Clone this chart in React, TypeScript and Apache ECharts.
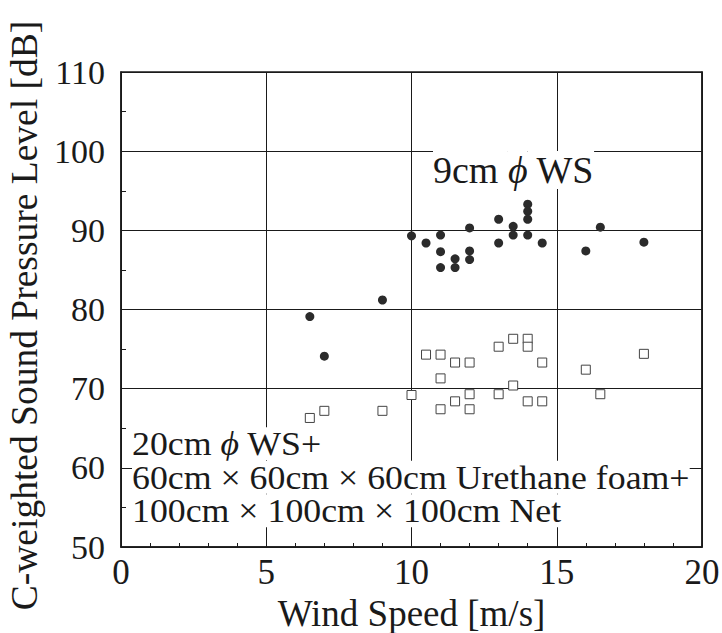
import React, { useEffect, useRef } from "react";
import * as echarts from "echarts";

const ws9Speed = [6.5, 7, 9, 10, 10.5, 11, 11, 11, 11.5, 11.5, 12, 12, 12, 13, 13, 13.5, 13.5, 14, 14, 14, 14, 14.5, 16, 16.5, 18];
const ws9Level = [79.1, 74.1, 81.2, 89.3, 88.4, 89.4, 87.3, 85.3, 86.4, 85.3, 90.3, 87.4, 86.3, 91.4, 88.4, 90.5, 89.4, 93.3, 92.4, 91.4, 89.4, 88.4, 87.4, 90.4, 88.5];

const ws20Speed = [6.5, 7, 9, 10, 10.5, 11, 11, 11, 11.5, 11.5, 12, 12, 12, 13, 13, 13.5, 13.5, 14, 14, 14, 14.5, 14.5, 16, 16.5, 18];
const ws20Level = [66.3, 67.2, 67.2, 69.2, 74.3, 74.3, 71.3, 67.4, 73.3, 68.4, 73.3, 69.3, 67.4, 75.3, 69.3, 76.3, 70.4, 76.3, 75.3, 68.4, 73.3, 68.4, 72.4, 69.3, 74.4];

const xName = "Wind Speed [m/s]";
const yName = "C-weighted Sound Pressure Level [dB]";
const PHI = "\u03d5";
const label9Parts = ["9cm ", PHI, " WS"];
const label20Lines = [
  ["20cm ", PHI, " WS+"],
  ["60cm \u00d7 60cm \u00d7 60cm Urethane foam+"],
  ["100cm \u00d7 100cm \u00d7 100cm Net"],
];

const FONT = "Liberation Serif";
const INK = "#1a1a1a";

const toRich = (parts: string[]) =>
  parts.map((p) => (p === PHI ? `{p|${p}}` : `{a|${p}}`)).join("");

export default function App() {
  const ref = useRef<HTMLDivElement>(null);
  useEffect(() => {
    if (!ref.current) return;
    const chart = echarts.init(ref.current, null, { renderer: "svg" });
    const lineStyle = { color: INK, width: 1 };
    const richFor = (size: number, lh: number) => ({
      a: { fontFamily: FONT, fontSize: size, lineHeight: lh, fill: INK, backgroundColor: "#ffffff" },
      p: {
        fontFamily: FONT,
        fontSize: size,
        lineHeight: lh,
        fontStyle: "italic",
        fill: INK,
        backgroundColor: "#ffffff",
      },
    });
    chart.setOption({
      animation: false,
      backgroundColor: "#ffffff",
      textStyle: { fontFamily: FONT },
      grid: {
        left: 121,
        right: 20,
        top: 72,
        bottom: 86,
        outerBoundsMode: "none",
        containLabel: false,
        show: true,
        borderColor: INK,
        borderWidth: 1.5,
        backgroundColor: "transparent",
      },
      xAxis: {
        type: "value",
        min: 0,
        max: 20,
        interval: 5,
        name: xName,
        nameLocation: "middle",
        nameGap: 36,
        nameTextStyle: { fontFamily: FONT, fontSize: 37, color: INK },
        axisLine: { show: true, lineStyle: { color: INK, width: 1.5 } },
        axisTick: { show: true, inside: true, length: 8, lineStyle },
        minorTick: { show: true, splitNumber: 5, length: 4, lineStyle },
        splitLine: { show: true, lineStyle },
        axisLabel: { fontFamily: FONT, fontSize: 35, color: INK, margin: 8 },
      },
      yAxis: [
        {
          type: "value",
          min: 50,
          max: 110,
          interval: 10,
          name: yName,
          nameLocation: "middle",
          nameGap: 69,
          nameTextStyle: { fontFamily: FONT, fontSize: 37.5, color: INK, padding: [0, 12, 0, 0] },
          axisLine: { show: true, lineStyle: { color: INK, width: 1.5 } },
          axisTick: { show: true, inside: true, length: 8, lineStyle },
          minorTick: { show: true, splitNumber: 2, length: 5, lineStyle },
          splitLine: { show: true, lineStyle },
          axisLabel: { fontFamily: FONT, fontSize: 34, color: INK, margin: 16 },
        },
        {
          type: "value",
          position: "right",
          min: 50,
          max: 110,
          interval: 10,
          axisLine: { show: true, lineStyle: { color: INK, width: 1.5 } },
          axisTick: { show: true, inside: true, length: 8, lineStyle },
          axisLabel: { show: false },
          splitLine: { show: false },
        },
      ],
      graphic: [
        {
          type: "text",
          left: 433,
          top: 151,
          z: 1,
          style: {
            text: toRich(label9Parts),
            fontFamily: FONT,
            fontSize: 38,
            lineHeight: 38,
            fill: INK,
            rich: richFor(38, 38),
          },
        },
        {
          type: "text",
          left: 132,
          top: 427,
          z: 1,
          scaleX: 1.085,
          style: {
            text: label20Lines.map(toRich).join("\n"),
            fontFamily: FONT,
            fontSize: 33,
            lineHeight: 33.5,
            fill: INK,
            rich: richFor(33, 33.5),
          },
        },
      ],
      series: [
        {
          name: "9cm WS",
          type: "scatter",
          z: 5,
          symbol: "circle",
          symbolSize: 9,
          itemStyle: { color: "#2b2b2b", opacity: 1 },
          data: ws9Speed.map((x, i) => [x, ws9Level[i]]),
        },
        {
          name: "20cm WS",
          type: "scatter",
          z: 5,
          symbol: "rect",
          symbolSize: 9,
          itemStyle: { color: "#ffffff", borderColor: "#444444", borderWidth: 1, opacity: 1 },
          data: ws20Speed.map((x, i) => [x, ws20Level[i]]),
        },
      ],
    });
    return () => chart.dispose();
  }, []);
  return (
    <div
      ref={ref}
      style={{ position: "fixed", left: 0, top: 0, width: 722, height: 633, background: "#fff" }}
    />
  );
}
